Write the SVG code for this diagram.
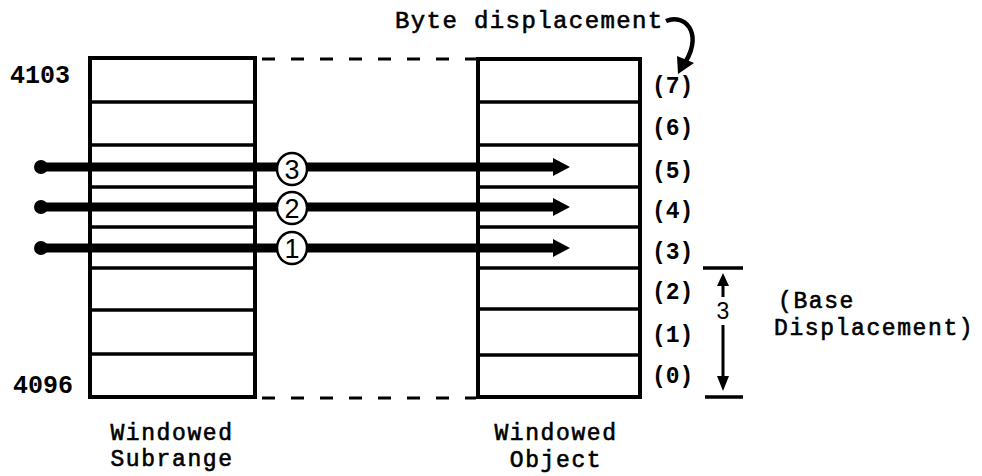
<svg xmlns="http://www.w3.org/2000/svg" width="982" height="476" viewBox="0 0 982 476">
<style>
.box{fill:none;stroke:#000;stroke-width:4}
.row{stroke:#000;stroke-width:3.5}
.dash{stroke:#000;stroke-width:3;stroke-dasharray:13 16}
.shaft{stroke:#000;stroke-width:9}
.num{font-family:"Liberation Mono",monospace;font-weight:bold;font-size:23px;fill:#000}
.big{font-family:"Liberation Mono",monospace;font-weight:bold;font-size:25px;fill:#000}
.lbl{font-family:"Liberation Mono",monospace;font-size:23px;letter-spacing:1.6px;fill:#000;stroke:#000;stroke-width:0.6}
.circ{fill:#fff;stroke:#000;stroke-width:2.5}
.cn{font-family:"Liberation Sans",sans-serif;font-size:27px;fill:#000;text-anchor:middle}
</style>
<rect width="982" height="476" fill="#fff"/>

<g id="subrange">
<rect class="box" x="90" y="58" width="165" height="339"/>
<line class="row" x1="90" y1="102" x2="255" y2="102"/>
<line class="row" x1="90" y1="145" x2="255" y2="145"/>
<line class="row" x1="90" y1="187" x2="255" y2="187"/>
<line class="row" x1="90" y1="227" x2="255" y2="227"/>
<line class="row" x1="90" y1="268" x2="255" y2="268"/>
<line class="row" x1="90" y1="310" x2="255" y2="310"/>
<line class="row" x1="90" y1="354" x2="255" y2="354"/>
<text class="big" x="10" y="83">4103</text>
<text class="big" x="13" y="393">4096</text>
<text class="lbl" x="172" y="440" text-anchor="middle">Windowed</text>
<text class="lbl" x="172" y="466" text-anchor="middle">Subrange</text>
</g>

<g id="object">
<rect class="box" x="478" y="59" width="162" height="338"/>
<line class="row" x1="478" y1="102" x2="640" y2="102"/>
<line class="row" x1="478" y1="145" x2="640" y2="145"/>
<line class="row" x1="478" y1="187" x2="640" y2="187"/>
<line class="row" x1="478" y1="227" x2="640" y2="227"/>
<line class="row" x1="478" y1="268" x2="640" y2="268"/>
<line class="row" x1="478" y1="309" x2="640" y2="309"/>
<line class="row" x1="478" y1="355" x2="640" y2="355"/>
<text class="num" x="652" y="93">(7)</text>
<text class="num" x="652" y="135">(6)</text>
<text class="num" x="652" y="178">(5)</text>
<text class="num" x="652" y="218">(4)</text>
<text class="num" x="652" y="259">(3)</text>
<text class="num" x="652" y="299">(2)</text>
<text class="num" x="652" y="342">(1)</text>
<text class="num" x="652" y="383">(0)</text>
<text class="lbl" x="556" y="440" text-anchor="middle">Windowed</text>
<text class="lbl" x="556" y="467" text-anchor="middle">Object</text>
</g>

<g id="byte-displacement">
<text class="lbl" x="395" y="28" style="font-size:24px;letter-spacing:1.4px">Byte displacement</text>
<path d="M666 21 C684 13 703 32 686 61" fill="none" stroke="#000" stroke-width="4.5"/>
<polygon points="678,74 677,56 694,63" fill="#000"/>
</g>

<g id="base-displacement">
<line x1="703" y1="268" x2="743" y2="268" stroke="#000" stroke-width="3.5"/>
<line x1="705" y1="397" x2="743" y2="397" stroke="#000" stroke-width="3.5"/>
<line x1="723" y1="283" x2="723" y2="297" stroke="#000" stroke-width="3"/>
<polygon points="723,273 717,286 729,286" fill="#000"/>
<text x="723" y="319" text-anchor="middle" style="font-family:'Liberation Sans',sans-serif;font-size:23px;fill:#000">3</text>
<line x1="723" y1="325" x2="723" y2="378" stroke="#000" stroke-width="3"/>
<polygon points="723,391 717,376 729,376" fill="#000"/>
<text class="lbl" x="778" y="308">(Base</text>
<text class="lbl" x="774" y="335">Displacement)</text>
</g>

<g id="connectors">
<line class="dash" x1="262" y1="59" x2="476" y2="59"/>
<line class="dash" x1="262" y1="398" x2="476" y2="398"/>
<circle cx="41" cy="167" r="7"/>
<line class="shaft" x1="41" y1="167" x2="556" y2="167"/>
<polygon points="553,158 570,167 553,176" fill="#000"/>
<circle cx="41" cy="207" r="7"/>
<line class="shaft" x1="41" y1="207" x2="556" y2="207"/>
<polygon points="553,198 570,207 553,216" fill="#000"/>
<circle cx="41" cy="248" r="7"/>
<line class="shaft" x1="41" y1="248" x2="556" y2="248"/>
<polygon points="553,239 570,248 553,257" fill="#000"/>
</g>

<g id="step3"><ellipse class="circ" cx="292" cy="169" rx="15" ry="16"/><text class="cn" x="292" y="179">3</text></g>
<g id="step2"><ellipse class="circ" cx="292" cy="208" rx="15" ry="16"/><text class="cn" x="292" y="218">2</text></g>
<g id="step1"><ellipse class="circ" cx="292" cy="248" rx="15" ry="16"/><text class="cn" x="292" y="258">1</text></g>
</svg>
